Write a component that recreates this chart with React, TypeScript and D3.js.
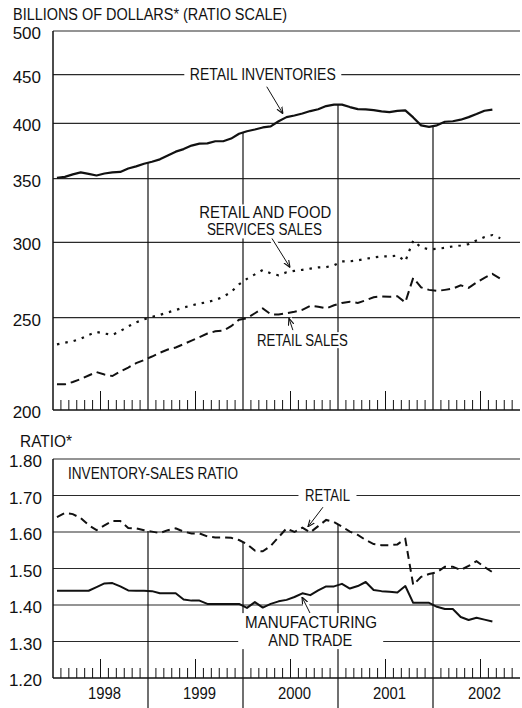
import React from "react";
import * as d3 from "d3";

// monthly, Jan 1998 onward (billions of dollars)
const retailInventories = [
  350.5, 351.4, 353.5, 355.2, 354.0, 352.6, 354.3, 355.2, 355.6, 358.6,
  360.4, 362.7, 364.5, 366.6, 370.0, 373.5, 375.8, 379.0, 380.8, 381.0,
  383.0, 383.0, 385.5, 390.0, 392.4, 394.0, 396.0, 397.0, 402.0, 406.0,
  407.6, 409.6, 412.0, 413.8, 417.0, 418.5, 418.5, 416.0, 414.0, 413.6,
  413.0, 411.7, 411.0, 412.2, 412.7, 405.7, 398.0, 396.6, 398.0, 401.5,
  402.0, 403.5, 406.0, 409.0, 412.3, 413.4,
];
const retailFoodSales = [
  234.4, 235.3, 236.2, 237.6, 239.8, 241.5, 240.6, 239.8, 242.0, 244.8,
  247.2, 249.0, 250.5, 251.7, 253.2, 254.7, 256.2, 257.5, 258.7, 259.6,
  260.9, 263.0, 266.0, 271.0, 274.6, 277.6, 280.6, 278.3, 277.0, 279.0,
  280.0, 280.7, 281.5, 282.3, 282.5, 283.8, 286.5, 286.5, 287.2, 288.2,
  289.3, 289.9, 289.9, 290.6, 286.5, 301.3, 296.3, 295.0, 295.3, 296.0,
  297.0, 297.7, 298.7, 301.3, 303.8, 305.3, 303.0,
];
const retailSales = [
  212.8, 212.8, 214.0, 215.5, 217.4, 219.2, 217.9, 217.1, 219.5, 221.6,
  224.0, 225.7, 227.6, 229.7, 231.5, 232.6, 234.5, 236.5, 238.5, 240.6,
  241.9, 242.3, 244.9, 248.8, 249.7, 252.7, 255.7, 252.1, 251.9, 252.7,
  253.6, 254.8, 257.3, 256.7, 255.7, 257.6, 259.1, 259.8, 259.1, 260.7,
  262.7, 263.2, 263.0, 263.3, 259.4, 275.3, 269.0, 267.4, 266.7, 267.4,
  268.2, 270.4, 268.7, 272.2, 275.3, 278.0, 274.8,
];
// inventory-sales ratios
const retailRatio = [
  1.641, 1.652, 1.649, 1.638, 1.619, 1.605, 1.618, 1.63, 1.63, 1.611,
  1.61, 1.605, 1.601, 1.597, 1.605, 1.61, 1.601, 1.596, 1.596, 1.588,
  1.585, 1.585, 1.584, 1.578, 1.567, 1.549, 1.547, 1.562, 1.586, 1.61,
  1.6, 1.612, 1.599, 1.616, 1.633, 1.627, 1.615, 1.601, 1.592, 1.578,
  1.567, 1.564, 1.564, 1.566, 1.581, 1.455, 1.477, 1.485, 1.49, 1.505,
  1.505, 1.496, 1.507, 1.52, 1.504, 1.49,
];
const mfgTradeRatio = [
  1.439, 1.439, 1.439, 1.439, 1.439, 1.449, 1.459, 1.46, 1.451, 1.44,
  1.439, 1.439, 1.438, 1.432, 1.432, 1.432, 1.415, 1.412, 1.412, 1.403,
  1.403, 1.403, 1.403, 1.403, 1.392, 1.408, 1.393, 1.403, 1.41, 1.414,
  1.422, 1.432, 1.427, 1.44, 1.451, 1.451, 1.458, 1.445, 1.452, 1.463,
  1.441, 1.438, 1.436, 1.434, 1.452, 1.406, 1.406, 1.406, 1.395, 1.389,
  1.389, 1.367, 1.359, 1.365, 1.36, 1.355,
];

const dollarTicks = [200, 250, 300, 350, 400, 450, 500];
const ratioTicks = [1.2, 1.3, 1.4, 1.5, 1.6, 1.7, 1.8];
const years = ["1998", "1999", "2000", "2001", "2002"];

const FONT = "'Liberation Sans', Arial, sans-serif";
const INK = "#111";
const GRID = "#2a2a2a";

const W = 522;
const H = 708;
const xRight = 520;

// months since Jan 1, 1998
const x = d3.scaleLinear().domain([0, 60]).range([53, 53 + 60 * (95 / 12)]);
const yTop = d3.scaleLog().domain([200, 500]).range([410, 31]);
const yBot = d3.scaleLinear().domain([1.2, 1.8]).range([678, 459]);

const mid = (i: number) => x(i + 0.5);
const topLine = d3.line<number>().x((_, i) => mid(i)).y((d) => yTop(d));
const botLine = d3.line<number>().x((_, i) => mid(i)).y((d) => yBot(d));

const boundary = (arr: number[], m: number) => (arr[m - 1] + arr[m]) / 2;

const monthTicks = d3.range(1, 60).filter((m) => m % 12 !== 0 && x(m) <= xRight);
const yearMarks = [12, 24, 36, 48];

type LabelProps = {
  cx: number;
  cy: number;
  text: string;
  width: number;
  size?: number;
  anchor?: "start" | "middle";
};

const Label = ({ cx, cy, text, width, size = 16, anchor = "middle" }: LabelProps) => (
  <text
    x={cx}
    y={cy + size * 0.36}
    textAnchor={anchor}
    fontSize={size}
    textLength={width}
    lengthAdjust="spacingAndGlyphs"
    fill={INK}
  >
    {text}
  </text>
);

// white knock-out behind a label block, like the gaps in the printed grid
const Knock = ({ cx, cy, w, h }: { cx: number; cy: number; w: number; h: number }) => (
  <rect x={cx - w / 2} y={cy - h / 2} width={w} height={h} fill="#fff" />
);

const Arrow = ({ m0, v0, m1, v1, scale }: { m0: number; v0: number; m1: number; v1: number; scale: (v: number) => number }) => (
  <g>
    <line x1={x(m0)} y1={scale(v0)} x2={x(m1)} y2={scale(v1)} stroke="#fff" strokeWidth={6} />
    <line x1={x(m0)} y1={scale(v0)} x2={x(m1)} y2={scale(v1)} stroke={INK} strokeWidth={1} markerEnd="url(#head)" />
  </g>
);

export default function App() {
  const topBottom = yTop(200);
  const botBottom = yBot(1.2);

  return (
    <svg
      width={W}
      height={H}
      style={{ position: "absolute", left: 0, top: 0, background: "#fff" }}
      fontFamily={FONT}
    >
      <defs>
        <marker id="head" viewBox="0 0 10 10" refX="10" refY="5" markerWidth="7" markerHeight="7" orient="auto">
          <path d="M0,1 L10,5 L0,9" fill="none" stroke={INK} strokeWidth={1.6} />
        </marker>
      </defs>
      <rect width={W} height={H} fill="#fff" />

      {/* ---------- top panel ---------- */}
      <text x={13} y={20} fontSize={16} fill={INK} textLength={274} lengthAdjust="spacingAndGlyphs">
        BILLIONS OF DOLLARS* (RATIO SCALE)
      </text>

      {dollarTicks.map((t) => (
        <g key={"dt" + t}>
          <line x1={x(0)} x2={xRight} y1={yTop(t)} y2={yTop(t)} stroke={t === 200 ? INK : GRID} strokeWidth={t === 200 ? 1.5 : 1.2} />
          <text x={41} y={yTop(t) + 2 + 17 * 0.36} fontSize={17} textAnchor="end" fill={INK}>
            {t}
          </text>
        </g>
      ))}
      <line x1={x(0)} x2={x(0)} y1={yTop(500)} y2={topBottom} stroke={INK} strokeWidth={1.5} />

      {yearMarks.map((m) => (
        <line key={"ty" + m} x1={x(m)} x2={x(m)} y1={yTop(boundary(retailInventories, m))} y2={topBottom} stroke={INK} strokeWidth={1.2} />
      ))}
      {monthTicks.map((m) => (
        <line key={"tt" + m} x1={x(m)} x2={x(m)} y1={topBottom} y2={topBottom - (m % 12 === 6 ? 19 : 10)} stroke={INK} strokeWidth={1} />
      ))}

      <Knock cx={x(26.5)} cy={yTop(450)} w={157} h={16} />
      <Knock cx={x(26.75)} cy={yTop(315.5)} w={138} h={34} />
      <Knock cx={x(31.5)} cy={yTop(236.8)} w={99} h={16} />

      <path d={topLine(retailInventories) ?? ""} fill="none" stroke={INK} strokeWidth={2.2} strokeLinejoin="round" />
      <path d={topLine(retailFoodSales) ?? ""} fill="none" stroke={INK} strokeWidth={2.2} strokeDasharray="2.5,6" />
      <path d={topLine(retailSales) ?? ""} fill="none" stroke={INK} strokeWidth={2} strokeDasharray="9,5" />

      <Label cx={x(26.5)} cy={yTop(450)} text="RETAIL INVENTORIES" width={146} />
      <Arrow m0={27} v0={437} m1={29.05} v1={409.3} scale={yTop} />
      <Label cx={x(26.8)} cy={yTop(322.4)} text="RETAIL AND FOOD" width={132} />
      <Label cx={x(26.7)} cy={yTop(309.4)} text="SERVICES SALES" width={115} />
      <Arrow m0={27.66} v0={302.8} m1={29.94} v1={282.3} scale={yTop} />
      <Label cx={x(31.5)} cy={yTop(236.8)} text="RETAIL SALES" width={91} />
      <Arrow m0={30.3} v0={242.6} m1={29.8} v1={249.7} scale={yTop} />

      {/* ---------- bottom panel ---------- */}
      <text x={20} y={447} fontSize={16} fill={INK} textLength={52} lengthAdjust="spacingAndGlyphs">
        RATIO*
      </text>

      {ratioTicks.map((t) => (
        <g key={"rt" + t}>
          <line x1={x(0)} x2={xRight} y1={yBot(t)} y2={yBot(t)} stroke={t === 1.2 ? INK : GRID} strokeWidth={t === 1.2 ? 1.5 : 1.2} />
          <text x={42} y={yBot(t) + 2 + 17 * 0.36} fontSize={17} textAnchor="end" fill={INK}>
            {t.toFixed(2)}
          </text>
        </g>
      ))}
      <line x1={x(0)} x2={x(0)} y1={yBot(1.8)} y2={botBottom} stroke={INK} strokeWidth={1.5} />

      {yearMarks.map((m) => (
        <line key={"by" + m} x1={x(m)} x2={x(m)} y1={yBot(boundary(retailRatio, m))} y2={H} stroke={INK} strokeWidth={1.2} />
      ))}
      {monthTicks.map((m) => (
        <line key={"bt" + m} x1={x(m)} x2={x(m)} y1={botBottom} y2={botBottom - (m % 12 === 6 ? 19 : 10)} stroke={INK} strokeWidth={1} />
      ))}

      <Knock cx={x(34.67)} cy={yBot(1.7)} w={58} h={16} />
      <Knock cx={x(32.55)} cy={yBot(1.3285)} w={145} h={36} />

      <path d={botLine(retailRatio) ?? ""} fill="none" stroke={INK} strokeWidth={2} strokeDasharray="8,5" />
      <path d={botLine(mfgTradeRatio) ?? ""} fill="none" stroke={INK} strokeWidth={2} strokeLinejoin="round" />

      <Label cx={x(1.9)} cy={yBot(1.7616)} text="INVENTORY-SALES RATIO" width={170} size={17} anchor="start" />
      <Label cx={x(34.67)} cy={yBot(1.7)} text="RETAIL" width={45} />
      <Arrow m0={34.1} v0={1.668} m1={32.2} v1={1.614} scale={yBot} />
      <Label cx={x(32.6)} cy={yBot(1.353)} text="MANUFACTURING" width={132} />
      <Label cx={x(32.5)} cy={yBot(1.304)} text="AND TRADE" width={84} />
      <Arrow m0={32.46} v0={1.378} m1={31.45} v1={1.422} scale={yBot} />

      {years.map((yr, k) => (
        <text key={yr} x={x(12 * k + 6) + 4} y={699} fontSize={16} textAnchor="middle" fill={INK} textLength={33} lengthAdjust="spacingAndGlyphs">
          {yr}
        </text>
      ))}
    </svg>
  );
}
